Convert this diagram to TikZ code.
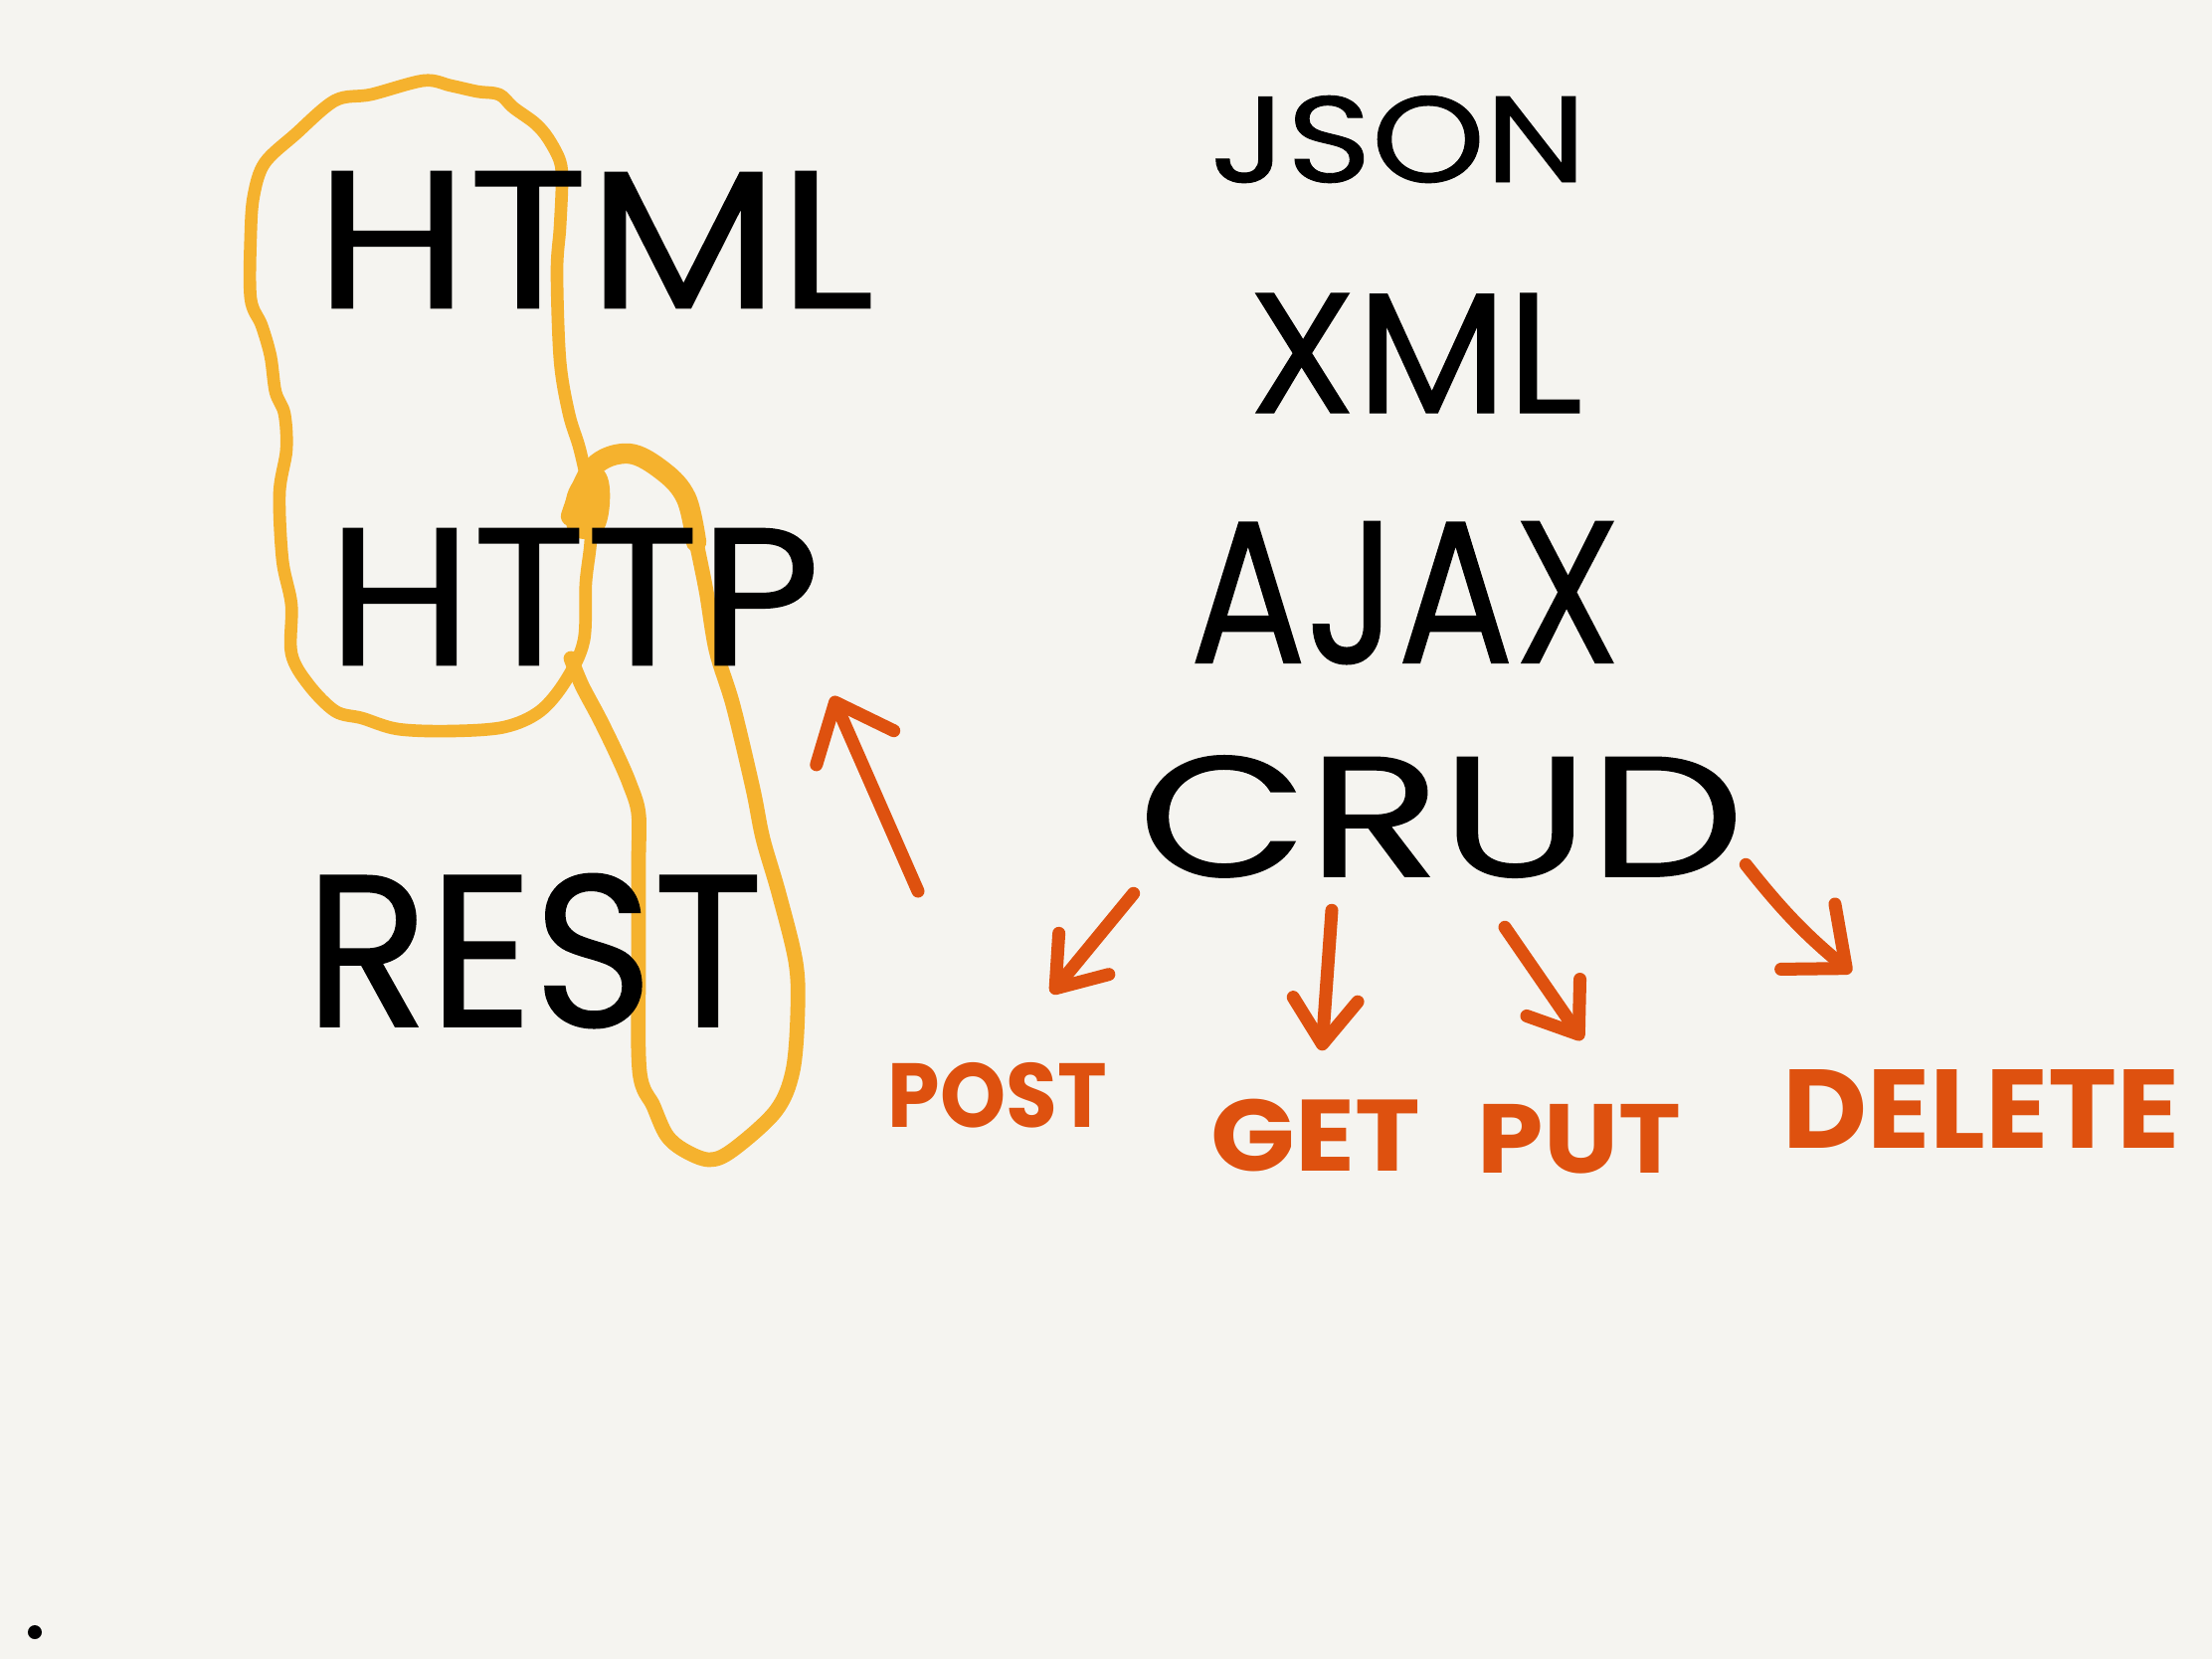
\documentclass[tikz,border=0pt]{standalone}
\usepackage{fontspec}
\setmainfont{Poppins}
\newfontfamily\inkfont{Poppins}[FakeBold=0.7]
\usepackage{graphicx}
\usepackage{tikz}
\usetikzlibrary{arrows.meta}
\definecolor{PaperBg}{RGB}{245,244,240}
\definecolor{HiliteYellow}{RGB}{245,178,46}
\definecolor{InkOrange}{RGB}{222,81,15}
\newcommand{\handword}[3]{\fontsize{#1}{#1}\selectfont\scalebox{#2}[1]{#3}}

\begin{document}
\begin{tikzpicture}[x=0.01cm,y=-0.01cm,
    word/.style={inner sep=0pt,text=black,font=\inkfont},
    verb/.style={inner sep=0pt,text=InkOrange,font=\bfseries},
    blob/.style={draw=HiliteYellow,line width=#1,line cap=round,line join=round},
    arr/.style={draw=InkOrange,line width=3.7pt,line cap=round,line join=round,
      -{Straight Barb[length=4.5mm,width=6.5mm,round]}},
    bigarr/.style={arr,-{Straight Barb[length=5mm,width=8.5mm,round]}}]
  \fill[PaperBg] (0,0) rectangle (2224,1668);
  \useasboundingbox (0,0) rectangle (2224,1668);

  \draw[blob=3.6pt] plot[smooth cycle,tension=0.55] coordinates {
    (426,81) (373,95) (337,101) (297,135) (266,164) (255,197) (252,237)
    (252,300) (263,327) (272,358) (277,394) (286,416) (288,452) (281,496)
    (284,563) (293,608) (293,657) (310,688) (337,715) (364,722) (400,733)
    (453,735) (507,731) (543,715) (569,684) (587,644) (589,586) (594,541)
    (592,496) (583,452) (572,416) (563,362) (560,273) (563,229) (565,184)
    (563,162) (551,139) (538,124) (516,108) (502,95) (480,92) (453,86)};
  \draw[blob=4.2pt] plot[smooth,tension=0.55] coordinates {
    (574,662) (585,689) (603,723) (620,758) (633,788) (642,818) (642,868)
    (642,967) (643,1077) (657,1112) (670,1141) (687,1156) (713,1166)
    (737,1156) (780,1117) (797,1077) (802,1017) (800,967) (783,898)
    (767,843) (757,793) (737,709) (720,654) (710,594) (700,545)};
  \draw[blob=5.8pt] plot[smooth,tension=0.6] coordinates {
    (700,545) (690,501) (667,474) (632,456) (596,470) (574,519)};
  \fill[HiliteYellow] plot[smooth cycle,tension=0.7] coordinates {
    (572,492) (596,470) (612,484) (609,528) (590,542) (570,530)};

  \node[word] (html) at (598,241) {\handword{56}{1.13}{HTML}};
  \node[word] (http) at (577,600) {\handword{56}{1.07}{HTTP}};
  \node[word] (rest) at (537,956) {\handword{62}{0.94}{REST}};
  \node[word] (json) at (1406,140) {\handword{35}{1.18}{JSON}};
  \node[word] (xml) at (1423,355) {\handword{49}{1.02}{XML}};
  \node[word] (ajax) at (1413,596) {\handword{58}{0.85}{AJAX}};
  \node[word,minimum width=5.86cm,minimum height=1.39cm] (crud) at (1449,821)
    {\handword{49}{1.28}{CRUD}};

  \node[verb,minimum width=2.13cm,minimum height=0.75cm] (post) at (1003,1101)
    {\handword{26}{0.92}{POST}};
  \node[verb,minimum width=2.07cm,minimum height=0.78cm] (get) at (1323,1142)
    {\handword{29}{1.09}{GET}};
  \node[verb,minimum width=1.93cm,minimum height=0.69cm] (put) at (1588,1145)
    {\handword{28}{1.08}{PUT}};
  \node[verb,minimum width=3.9cm,minimum height=0.89cm] (delete) at (1992,1115)
    {\handword{32}{1.04}{DELETE}};

  \draw[arr] ([shift={(-4,7)}]crud.south west) -- ([shift={(54,-64)}]post.north);
  \draw[arr] ([shift={(-110,24)}]crud.south) -- ([shift={(6,-46)}]get.north);
  \draw[arr] ([shift={(64,41)}]crud.south) -- ([shift={(3,-64)}]put.north);
  \draw[bigarr] ([shift={(1,-22)}]crud.south east) to[bend right=6]
    ([shift={(70,-92)}]delete.north west);

  \coordinate (up tail) at (923,896);
  \coordinate (up tip) at (837,700);
  \draw[bigarr] (up tail) -- (up tip);

  \fill (35,1641) circle[radius=0.07cm];
\end{tikzpicture}
\end{document}
